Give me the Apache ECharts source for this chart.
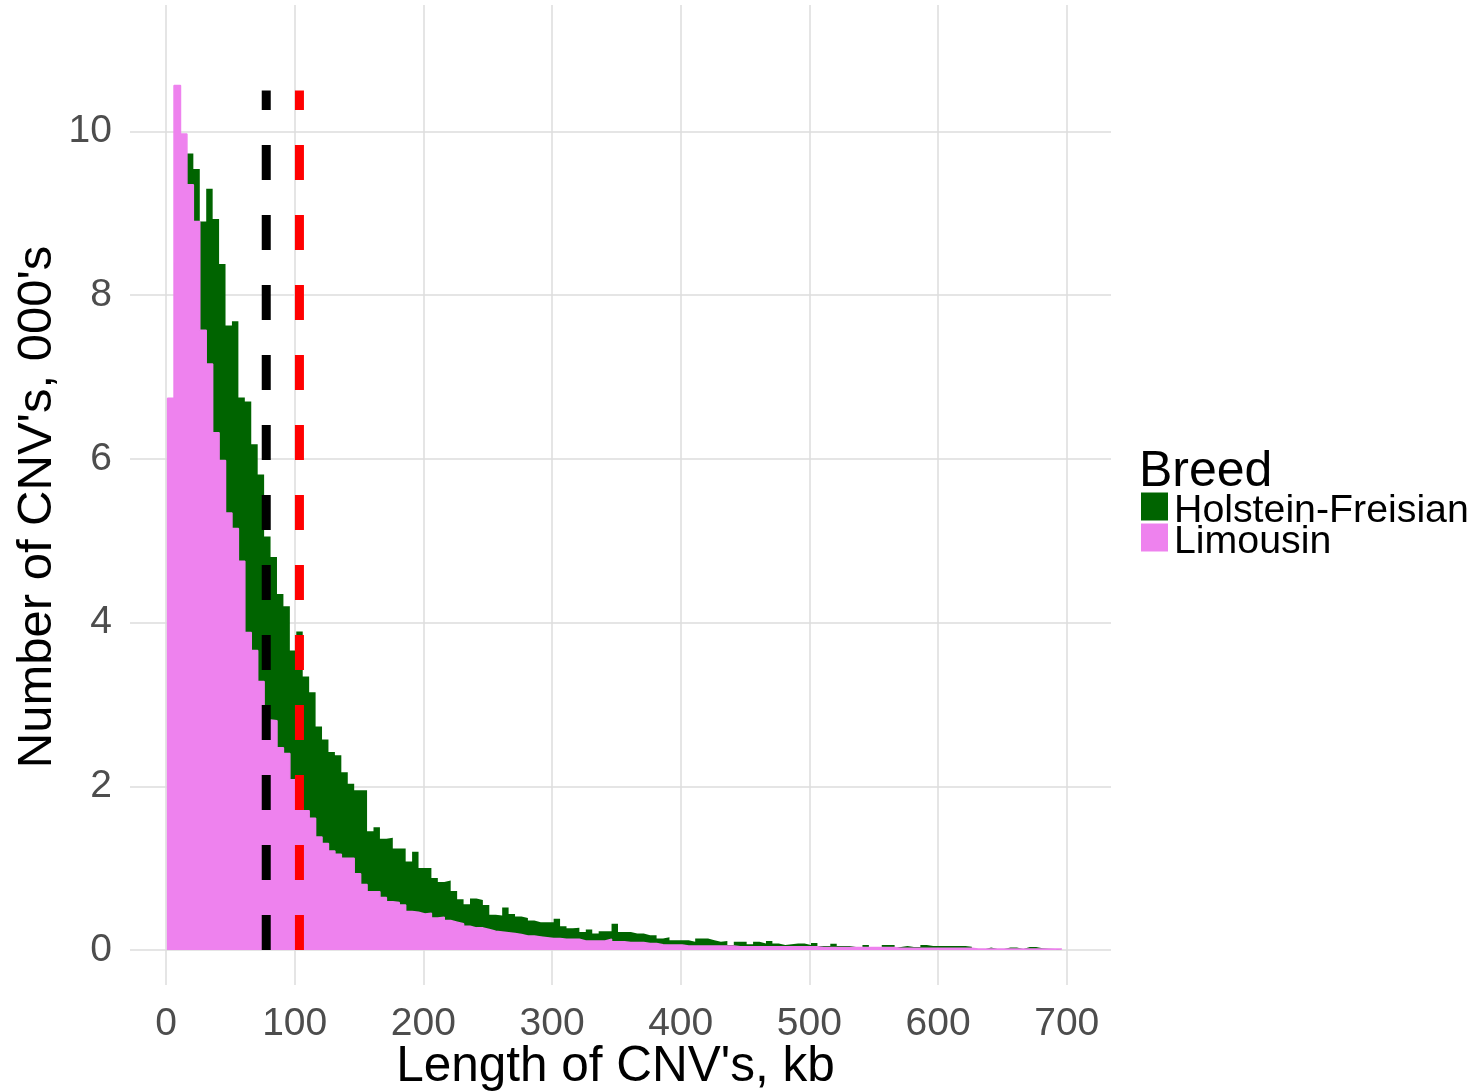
<!DOCTYPE html>
<html>
<head>
<meta charset="utf-8">
<script src="https://cdn.jsdelivr.net/npm/echarts@6/dist/echarts.min.js"></script>
<style>
  html, body { margin: 0; padding: 0; background: #ffffff; }
  #chart { width: 1480px; height: 1091px; }
</style>
</head>
<body>
<div id="chart"></div>
<script>
// Histogram of CNV lengths (kb), counts in thousands, 5 kb bins
const binStart = 1.25;
const binWidth = 5;

const holsteinCounts = [
  5.20, 8.40, 9.60, 9.73, 9.54, 8.90, 9.30, 8.93, 8.38, 7.63,
  7.68, 6.75, 6.70, 6.18, 5.81, 5.05, 4.80, 4.35, 4.20, 3.66,
  3.89, 3.34, 3.15, 2.73, 2.57, 2.42, 2.38, 2.17, 2.03, 1.95,
  1.95, 1.45, 1.50, 1.36, 1.37, 1.24, 1.24, 1.08, 1.20, 1.00,
  1.00, 0.88, 0.83, 0.85, 0.72, 0.62, 0.56, 0.63, 0.61, 0.55,
  0.43, 0.42, 0.52, 0.44, 0.41, 0.39, 0.36, 0.34, 0.34, 0.34,
  0.38, 0.29, 0.265, 0.27, 0.22, 0.25, 0.20, 0.23, 0.23, 0.32,
  0.22, 0.22, 0.20, 0.20, 0.18, 0.18, 0.14, 0.155, 0.12, 0.12,
  0.12, 0.10, 0.14, 0.14, 0.12, 0.10, 0.11, 0.06, 0.10, 0.10,
  0.07, 0.10, 0.08, 0.11, 0.08, 0.06, 0.07, 0.08, 0.08, 0.06,
  0.085, 0.05, 0.05, 0.077, 0.05, 0.05, 0.035, 0.035, 0.06, 0.035,
  0.035, 0.06, 0.06, 0.035, 0.05, 0.035, 0.035, 0.06, 0.05, 0.05,
  0.05, 0.05, 0.05, 0.05, 0.04, 0.01, 0.01, 0.03, 0.012, 0.012,
  0.03, 0.03, 0.012, 0.035, 0.035, 0.02, 0.015, 0.012, 0.012
];

const limousinCounts = [
  6.74, 10.56, 9.97, 9.35, 8.90, 7.57, 7.16, 6.32, 5.98, 5.34,
  5.15, 4.75, 3.88, 3.66, 3.28, 2.81, 2.80, 2.47, 2.40, 2.08,
  1.73, 1.70, 1.61, 1.38, 1.30, 1.21, 1.17, 1.12, 1.12, 0.93,
  0.80, 0.71, 0.71, 0.64, 0.59, 0.58, 0.55, 0.47, 0.46, 0.44,
  0.45, 0.39, 0.40, 0.36, 0.34, 0.32, 0.29, 0.27, 0.27, 0.25,
  0.23, 0.22, 0.21, 0.20, 0.19, 0.17, 0.17, 0.16, 0.15, 0.14,
  0.14, 0.13, 0.13, 0.13, 0.11, 0.11, 0.11, 0.11, 0.13, 0.10,
  0.10, 0.09, 0.09, 0.09, 0.08, 0.08, 0.065, 0.06, 0.06, 0.06,
  0.05, 0.05, 0.05, 0.05, 0.05, 0.05, 0.05, 0.05, 0.04, 0.04,
  0.04, 0.04, 0.04, 0.04, 0.04, 0.04, 0.04, 0.04, 0.04, 0.04,
  0.04, 0.03, 0.03, 0.03, 0.03, 0.03, 0.03, 0.03, 0.03, 0.03,
  0.03, 0.03, 0.03, 0.02, 0.02, 0.02, 0.02, 0.02, 0.02, 0.02,
  0.02, 0.02, 0.02, 0.02, 0.02, 0.012, 0.012, 0.012, 0.012, 0.012,
  0.012, 0.012, 0.012, 0.012, 0.012, 0.012, 0.012, 0.012, 0.012
];

// Dashed reference lengths (kb) and their height
const dashedLineX = [77.9, 103.7];
const dashedLineTop = 10.5;

const breedNames = ['Holstein-Freisian', 'Limousin'];
const xTicks = [0, 100, 200, 300, 400, 500, 600, 700];
const yTicks = [0, 2, 4, 6, 8, 10];

// Closed step outline of a histogram: starts on the baseline, one point per bin edge
function stepPoints(counts) {
  const pts = [[binStart, 0]];
  counts.forEach((c, i) => pts.push([binStart + i * binWidth, c]));
  pts.push([binStart + counts.length * binWidth, counts[counts.length - 1]]);
  return pts;
}

const FONT = "'Liberation Sans', Arial, sans-serif";
const GRID_COLOR = '#dcdcdc';

const chart = echarts.init(document.getElementById('chart'), null, { renderer: 'canvas' });

const histSeries = (name, counts, color, edgeWidth, z) => ({
  name: name,
  type: 'line',
  step: 'end',
  data: stepPoints(counts),
  symbol: 'none',
  showSymbol: false,
  color: color,
  lineStyle: { width: edgeWidth, color: color },
  areaStyle: { color: color, opacity: 1, origin: 0 },
  itemStyle: { color: color },
  emphasis: { disabled: true },
  silent: true,
  animation: false,
  z: z
});

const dashSeries = (x, color) => ({
  type: 'line',
  data: [[x, 0], [x, dashedLineTop]],
  symbol: 'none',
  lineStyle: { color: color, width: 9, type: [35, 35], cap: 'butt' },
  silent: true,
  animation: false,
  clip: false,
  z: 4
});

chart.setOption({
  animation: false,
  backgroundColor: '#ffffff',
  textStyle: { fontFamily: FONT },
  title: {
    text: 'Breed',
    left: 1139,
    top: 447,
    padding: 0,
    textStyle: { fontFamily: FONT, fontSize: 50, fontWeight: 'normal', color: '#000000', lineHeight: 50 }
  },
  legend: {
    data: breedNames,
    orient: 'vertical',
    left: 1141,
    top: 482,
    padding: 0,
    icon: 'rect',
    itemWidth: 27,
    itemHeight: 28,
    itemGap: -18,
    itemStyle: { borderWidth: 0 },
    lineStyle: { width: 0 },
    selectedMode: false,
    formatter: '{t|{name}}',
    textStyle: {
      fontFamily: FONT, fontSize: 39.3, color: '#000000',
      rich: { t: { fontFamily: FONT, fontSize: 39.3, color: '#000000', lineHeight: 40, padding: [10, 0, 0, 1] } }
    }
  },
  grid: {
    left: 130, right: 369, top: 5, bottom: 106,
    containLabel: false,
    outerBoundsMode: 'none'
  },
  xAxis: {
    type: 'value',
    min: -27.98,
    max: 734.4,
    name: "Length of CNV's, kb",
    nameLocation: 'middle',
    nameGap: 57,
    nameMoveOverlap: false,
    nameTextStyle: { fontFamily: FONT, fontSize: 49.5, color: '#000000', padding: [0, 10, 0, 0] },
    axisLine: { show: false },
    axisTick: { show: false, customValues: xTicks },
    axisLabel: { customValues: xTicks, fontFamily: FONT, fontSize: 39, color: '#4d4d4d', margin: 20 },
    splitLine: { show: true, lineStyle: { color: GRID_COLOR, width: 1.5 } }
  },
  yAxis: {
    type: 'value',
    min: -0.428,
    max: 11.545,
    name: "Number of CNV's, 000's",
    nameLocation: 'middle',
    nameGap: 68,
    nameMoveOverlap: false,
    nameTextStyle: { fontFamily: FONT, fontSize: 49, color: '#000000', padding: [0, 24, 0, 0] },
    axisLine: { show: false },
    axisTick: { show: false, customValues: yTicks },
    axisLabel: { customValues: yTicks, fontFamily: FONT, fontSize: 39, color: '#4d4d4d', margin: 18 },
    splitLine: { show: true, lineStyle: { color: GRID_COLOR, width: 1.5 } }
  },
  series: [
    histSeries(breedNames[0], holsteinCounts, '#006400', 0, 2),
    histSeries(breedNames[1], limousinCounts, '#ee82ee', 1.5, 3),
    dashSeries(dashedLineX[0], '#000000'),
    dashSeries(dashedLineX[1], '#ff0000')
  ]
});
</script>
</body>
</html>
